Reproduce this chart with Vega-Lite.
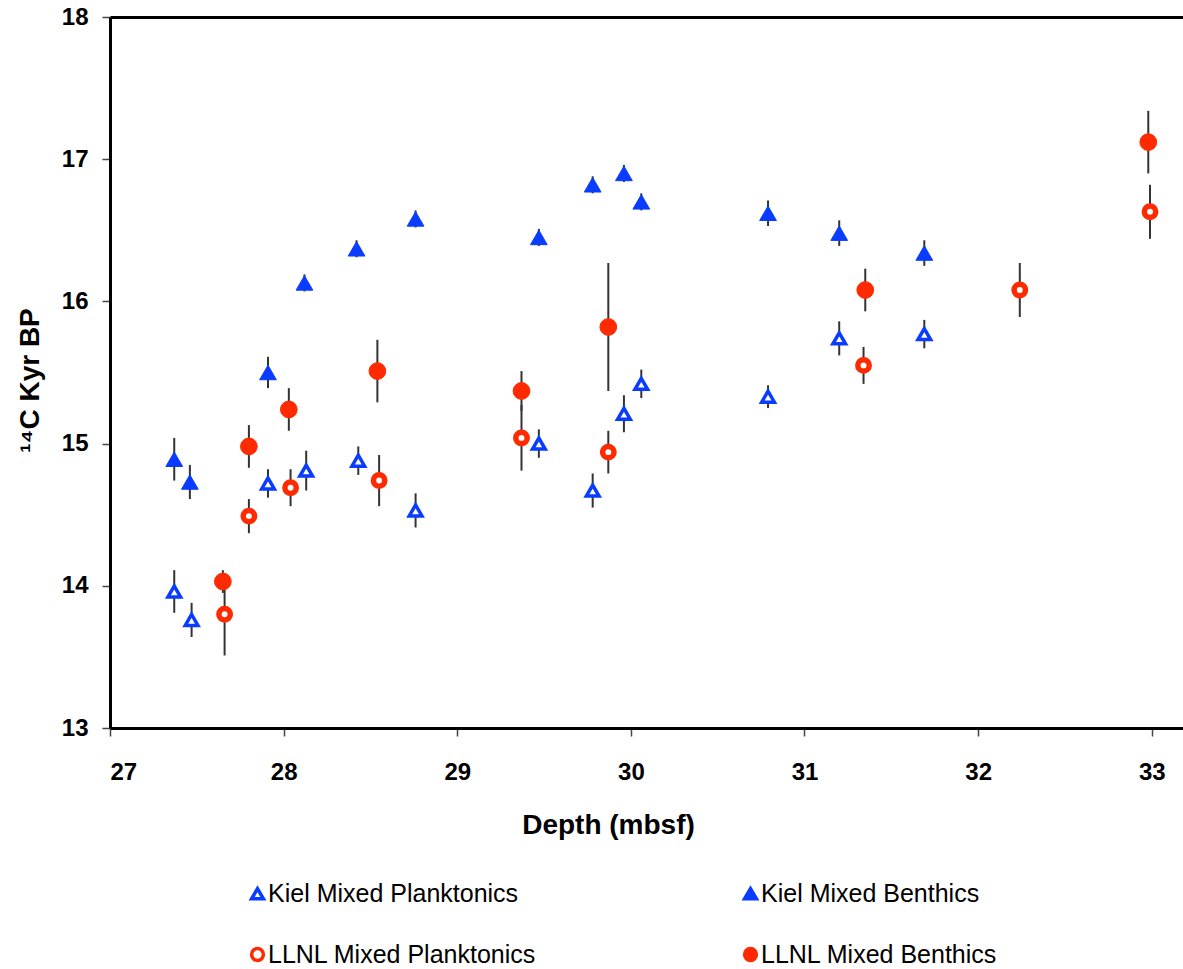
{
  "$schema": "https://vega.github.io/schema/vega-lite/v6.json",
  "autosize": "none",
  "width": 1073,
  "height": 711,
  "padding": {"left": 110, "top": 17, "right": 0, "bottom": 241},
  "background": "white",
  "config": {
    "view": {"stroke": null},
    "font": "Liberation Sans",
    "axis": {"grid": false, "domainColor": "black", "domainWidth": 3, "tickColor": "#444", "tickWidth": 1.5, "tickSize": 8, "labelFont": "Liberation Sans", "labelFontWeight": "bold", "labelFontSize": 24, "labelColor": "black", "titleFont": "Liberation Sans", "titleFontWeight": "bold", "titleColor": "black", "titleFontSize": 28}
  },
  "data": {
    "values": [
      {"series": "Kiel Mixed Benthics", "depth": 27.37, "age": 14.89, "err": 0.15},
      {"series": "Kiel Mixed Benthics", "depth": 27.46, "age": 14.73, "err": 0.12},
      {"series": "Kiel Mixed Benthics", "depth": 27.91, "age": 15.50, "err": 0.11},
      {"series": "Kiel Mixed Benthics", "depth": 28.12, "age": 16.13, "err": 0.06},
      {"series": "Kiel Mixed Benthics", "depth": 28.42, "age": 16.37, "err": 0.06},
      {"series": "Kiel Mixed Benthics", "depth": 28.76, "age": 16.58, "err": 0.06},
      {"series": "Kiel Mixed Benthics", "depth": 29.47, "age": 16.45, "err": 0.06},
      {"series": "Kiel Mixed Benthics", "depth": 29.78, "age": 16.82, "err": 0.06},
      {"series": "Kiel Mixed Benthics", "depth": 29.96, "age": 16.90, "err": 0.06},
      {"series": "Kiel Mixed Benthics", "depth": 30.06, "age": 16.70, "err": 0.06},
      {"series": "Kiel Mixed Benthics", "depth": 30.79, "age": 16.62, "err": 0.09},
      {"series": "Kiel Mixed Benthics", "depth": 31.20, "age": 16.48, "err": 0.09},
      {"series": "Kiel Mixed Benthics", "depth": 31.69, "age": 16.34, "err": 0.09},
      {"series": "Kiel Mixed Planktonics", "depth": 27.37, "age": 13.96, "err": 0.15},
      {"series": "Kiel Mixed Planktonics", "depth": 27.47, "age": 13.76, "err": 0.12},
      {"series": "Kiel Mixed Planktonics", "depth": 27.91, "age": 14.72, "err": 0.10},
      {"series": "Kiel Mixed Planktonics", "depth": 28.13, "age": 14.81, "err": 0.14},
      {"series": "Kiel Mixed Planktonics", "depth": 28.43, "age": 14.88, "err": 0.10},
      {"series": "Kiel Mixed Planktonics", "depth": 28.76, "age": 14.53, "err": 0.12},
      {"series": "Kiel Mixed Planktonics", "depth": 29.47, "age": 15.00, "err": 0.10},
      {"series": "Kiel Mixed Planktonics", "depth": 29.78, "age": 14.67, "err": 0.12},
      {"series": "Kiel Mixed Planktonics", "depth": 29.96, "age": 15.21, "err": 0.13},
      {"series": "Kiel Mixed Planktonics", "depth": 30.06, "age": 15.42, "err": 0.10},
      {"series": "Kiel Mixed Planktonics", "depth": 30.79, "age": 15.33, "err": 0.08},
      {"series": "Kiel Mixed Planktonics", "depth": 31.20, "age": 15.74, "err": 0.12},
      {"series": "Kiel Mixed Planktonics", "depth": 31.69, "age": 15.77, "err": 0.10},
      {"series": "LLNL Mixed Benthics", "depth": 27.65, "age": 14.03, "err": 0.08},
      {"series": "LLNL Mixed Benthics", "depth": 27.80, "age": 14.98, "err": 0.15},
      {"series": "LLNL Mixed Benthics", "depth": 28.03, "age": 15.24, "err": 0.15},
      {"series": "LLNL Mixed Benthics", "depth": 28.54, "age": 15.51, "err": 0.22},
      {"series": "LLNL Mixed Benthics", "depth": 29.37, "age": 15.37, "err": 0.14},
      {"series": "LLNL Mixed Benthics", "depth": 29.87, "age": 15.82, "err": 0.45},
      {"series": "LLNL Mixed Benthics", "depth": 31.35, "age": 16.08, "err": 0.15},
      {"series": "LLNL Mixed Benthics", "depth": 32.98, "age": 17.12, "err": 0.22},
      {"series": "LLNL Mixed Planktonics", "depth": 27.66, "age": 13.80, "err": 0.29},
      {"series": "LLNL Mixed Planktonics", "depth": 27.80, "age": 14.49, "err": 0.12},
      {"series": "LLNL Mixed Planktonics", "depth": 28.04, "age": 14.69, "err": 0.13},
      {"series": "LLNL Mixed Planktonics", "depth": 28.55, "age": 14.74, "err": 0.18},
      {"series": "LLNL Mixed Planktonics", "depth": 29.37, "age": 15.04, "err": 0.23},
      {"series": "LLNL Mixed Planktonics", "depth": 29.87, "age": 14.94, "err": 0.15},
      {"series": "LLNL Mixed Planktonics", "depth": 31.34, "age": 15.55, "err": 0.13},
      {"series": "LLNL Mixed Planktonics", "depth": 32.24, "age": 16.08, "err": 0.19},
      {"series": "LLNL Mixed Planktonics", "depth": 32.99, "age": 16.63, "err": 0.19}
    ]
  },
  "encoding": {
    "y": {"field": "age", "type": "quantitative", "scale": {"domain": [13, 18], "nice": false, "zero": false},
          "axis": {"values": [13, 14, 15, 16, 17, 18], "format": "d", "labelPadding": 14, "title": "¹⁴C Kyr BP", "titleX": -80, "titleY": 363, "titleBaseline": "middle", "titleAngle": 270}},
    "shape": {"field": "series", "type": "nominal", "title": null,
              "scale": {"domain": ["Kiel Mixed Planktonics", "Kiel Mixed Benthics", "LLNL Mixed Planktonics", "LLNL Mixed Benthics"], "range": ["triangle-up", "triangle-up", "circle", "circle"]},
              "legend": {"orient": "none", "legendX": 135, "legendY": 864, "direction": "horizontal", "columns": 2, "columnPadding": 200, "rowPadding": 34, "labelFontSize": 25, "labelFont": "Liberation Sans", "labelColor": "black", "labelOffset": -2, "symbolSize": 140, "symbolStrokeWidth": 3.5, "labelLimit": 400}},
    "stroke": {"field": "series", "type": "nominal", "title": null,
               "scale": {"domain": ["Kiel Mixed Planktonics", "Kiel Mixed Benthics", "LLNL Mixed Planktonics", "LLNL Mixed Benthics"], "range": ["#0a3cff", "#0a3cff", "#ff2a00", "#ff2a00"]}},
    "fill": {"field": "series", "type": "nominal", "title": null,
             "scale": {"domain": ["Kiel Mixed Planktonics", "Kiel Mixed Benthics", "LLNL Mixed Planktonics", "LLNL Mixed Benthics"], "range": ["#ffffff", "#0a3cff", "#ffffff", "#ff2a00"]}}
  },
  "layer": [
    {
      "mark": {"type": "errorbar", "color": "#333333", "thickness": 2},
      "encoding": {
        "x": {"field": "depth", "type": "quantitative", "scale": {"domain": [27, 33.18], "nice": false, "zero": false},
              "axis": {"orient": "bottom", "values": [27, 28, 29, 30, 31, 32, 33], "format": "d", "labelPadding": 24, "title": "Depth (mbsf)", "titleX": 498, "titleY": 97, "titleBaseline": "middle"}},
        "yError": {"field": "err"},
        "shape": null, "stroke": null, "fill": null
      }
    },
    {
      "transform": [{"filter": "datum.series === 'Kiel Mixed Benthics' || datum.series === 'LLNL Mixed Benthics'"}],
      "mark": {"type": "point", "filled": false, "opacity": 1, "strokeWidth": 1, "size": 280},
      "encoding": {
        "x": {"field": "depth", "type": "quantitative", "axis": {"orient": "top", "labels": false, "ticks": false, "title": null}}
      }
    },
    {
      "transform": [{"filter": "datum.series === 'Kiel Mixed Planktonics'"}],
      "mark": {"type": "point", "filled": false, "opacity": 1, "strokeWidth": 3.5, "size": 160},
      "encoding": {
        "x": {"field": "depth", "type": "quantitative", "axis": null}
      }
    },
    {
      "transform": [{"filter": "datum.series === 'LLNL Mixed Planktonics'"}],
      "mark": {"type": "point", "filled": false, "opacity": 1, "strokeWidth": 5.5, "size": 130},
      "encoding": {
        "x": {"field": "depth", "type": "quantitative", "axis": null}
      }
    }
  ],
  "resolve": {"axis": {"x": "independent"}}
}
